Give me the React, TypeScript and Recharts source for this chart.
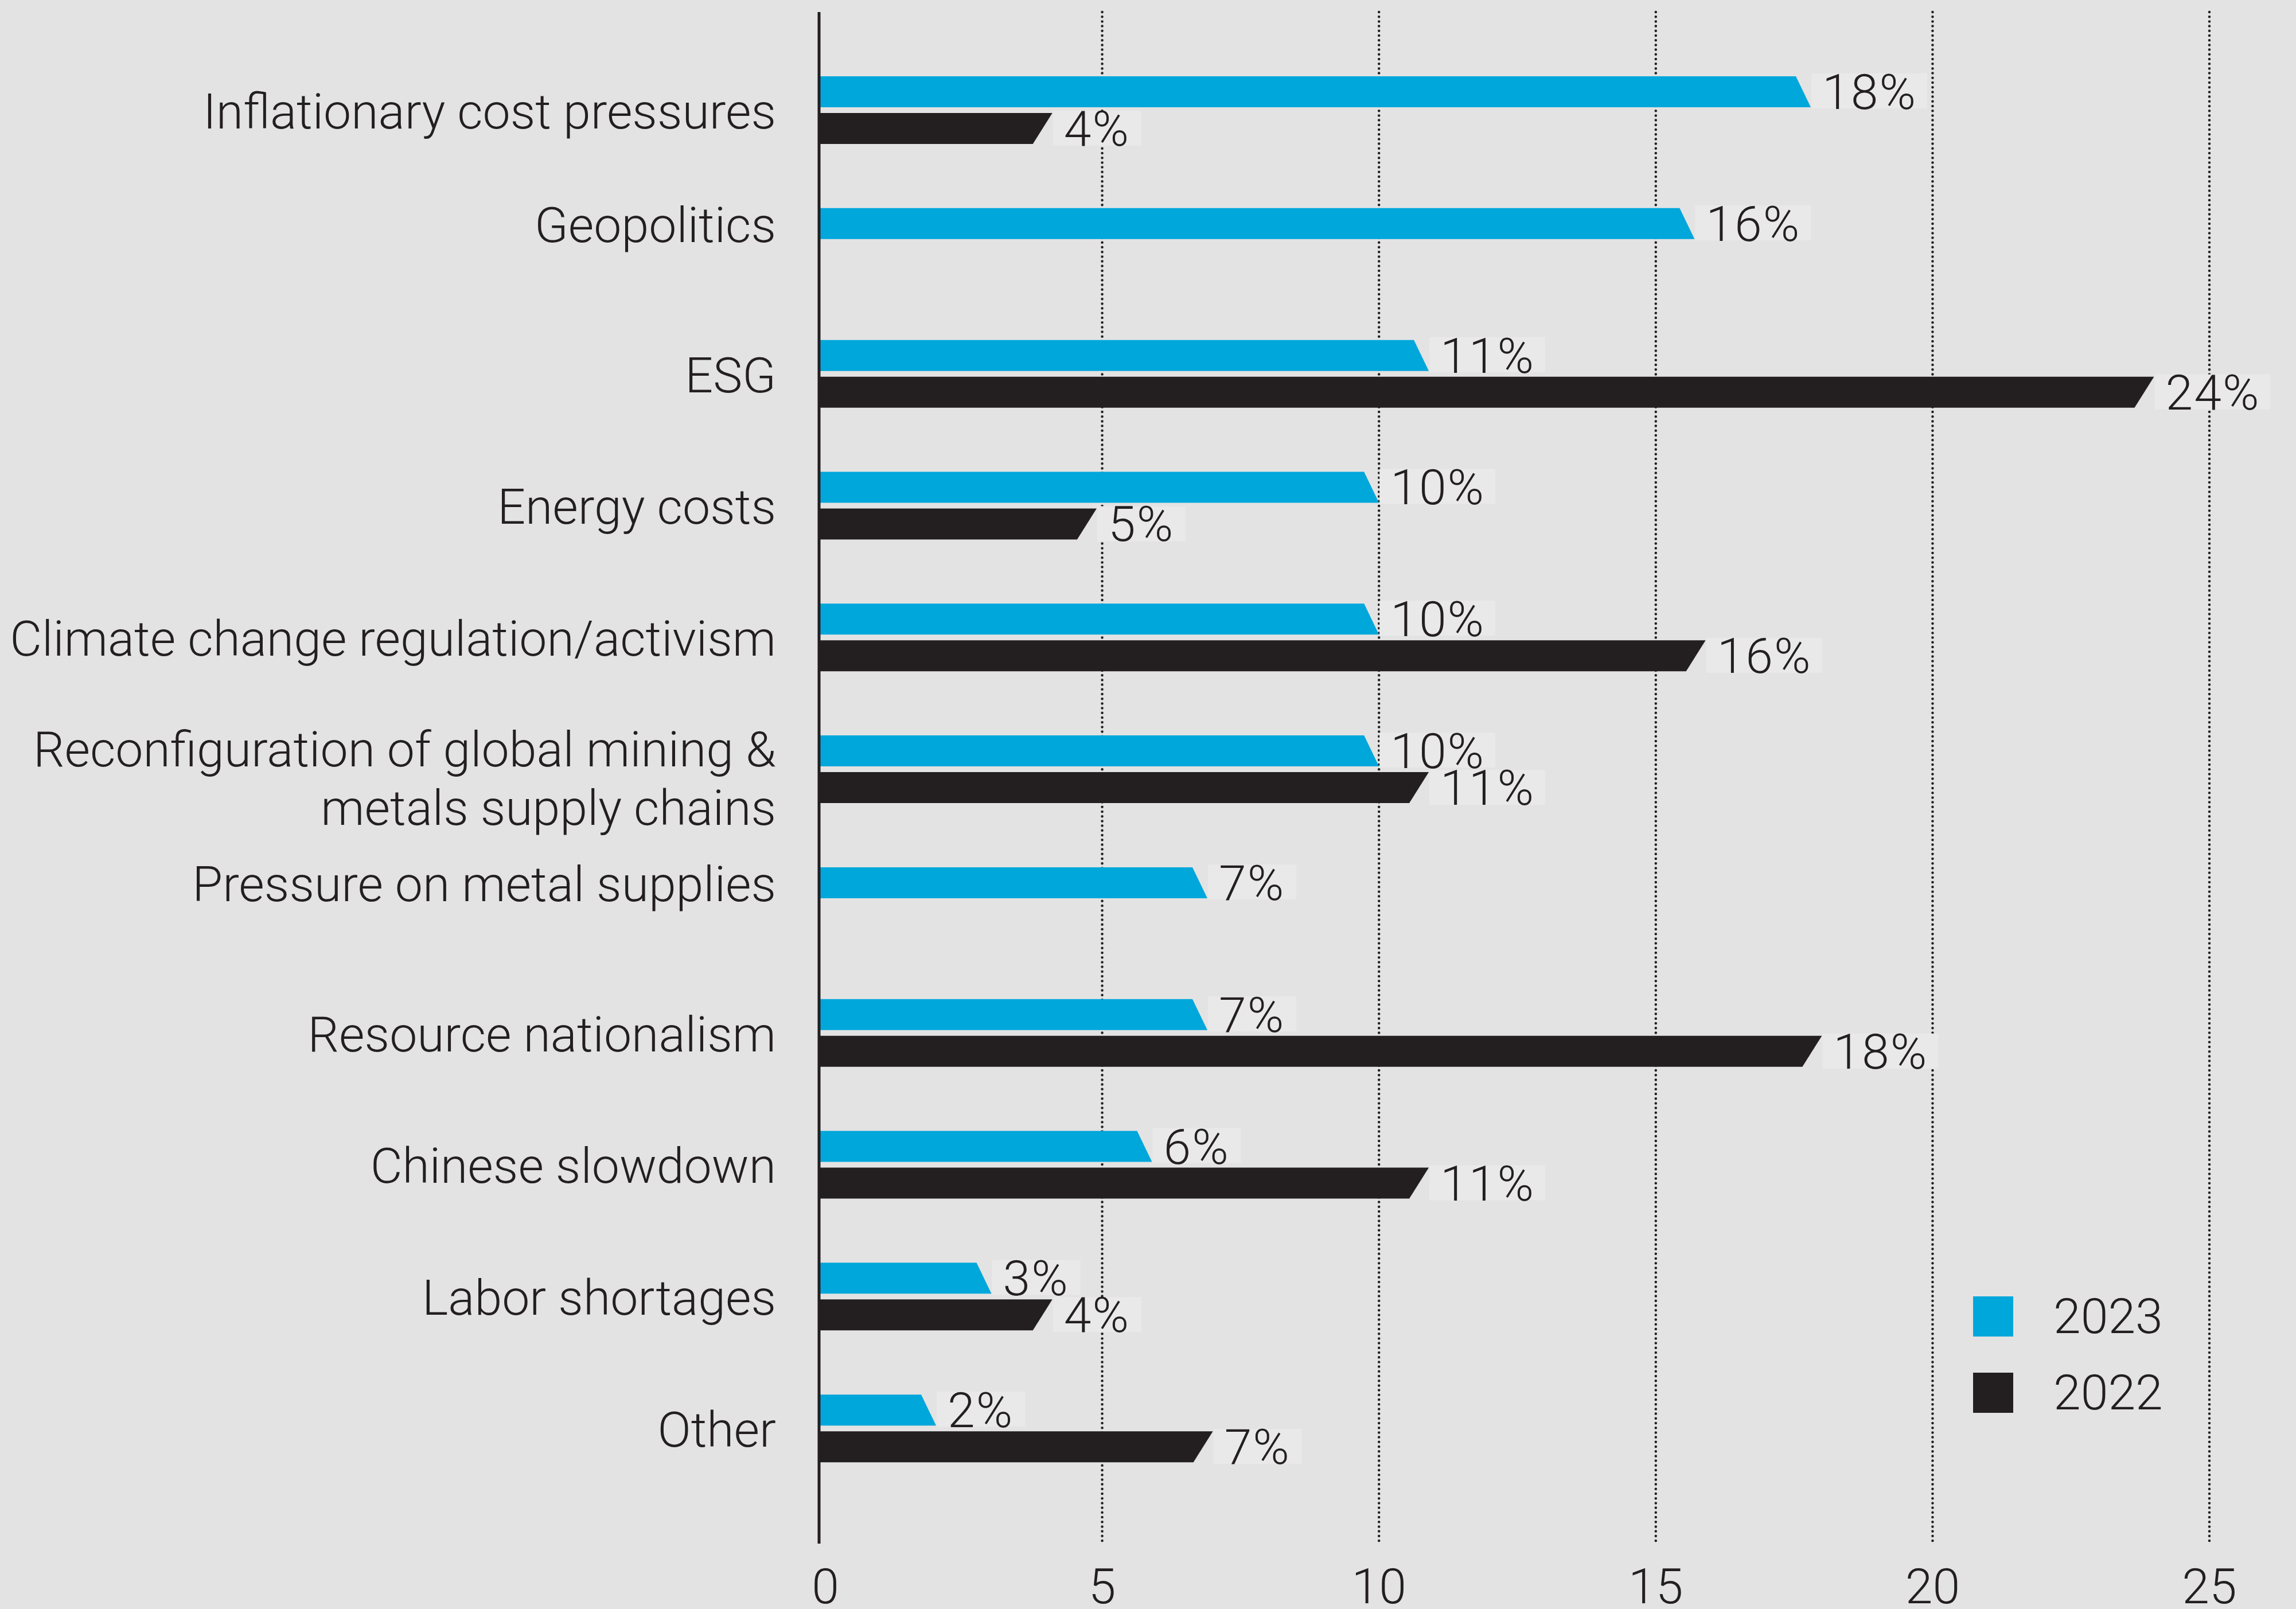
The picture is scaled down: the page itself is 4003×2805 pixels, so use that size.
import React from 'react';
import { BarChart, Bar, XAxis, YAxis, CartesianGrid, LabelList, Legend } from 'recharts';

const categories = [
  'Inflationary cost pressures',
  'Geopolitics',
  'ESG',
  'Energy costs',
  'Climate change regulation/activism',
  'Reconfiguration of global mining &\nmetals supply chains',
  'Pressure on metal supplies',
  'Resource nationalism',
  'Chinese slowdown',
  'Labor shortages',
  'Other',
];
const values2023: (number | null)[] = [17.8, 15.7, 10.9, 10, 10, 10, 6.9, 6.9, 5.9, 3, 2];
const values2022: (number | null)[] = [4.1, null, 24, 4.9, 15.9, 10.9, null, 18, 10.9, 4.1, 7];
const xTicks = [0, 5, 10, 15, 20, 25];
const gridTicks = [5, 10, 15, 20, 25];
const seriesNames = ['2023', '2022'];

const W = 4003;
const H = 2805;
const BLUE = '#00a7db';
const DARK = '#231f20';
const BG = '#e3e3e3';
const BOX = '#e9e9ea';
const FONT = 'Roboto, "Liberation Sans", sans-serif';
const FS = 86;
const ZERO_PAD = 11;

const data = categories.map((c, i) => ({ category: c, y2023: values2023[i], y2022: values2022[i] }));

function makeShape(slant: number, topShort: boolean) {
  return (props: any) => {
    const { x, y, width, height, fill } = props;
    if (!(width > 0) || !(height > 0)) return null;
    const x0 = x - ZERO_PAD;
    const xe = x + width;
    const pts = topShort
      ? [[x0, y], [xe - slant, y], [xe, y + height], [x0, y + height]]
      : [[x0, y], [xe, y], [xe - slant, y + height], [x0, y + height]];
    return <polygon points={pts.map((p) => p.join(',')).join(' ')} fill={fill} />;
  };
}

function makeLabel(isTop: boolean) {
  return (props: any) => {
    const vb = props.viewBox && props.viewBox.width != null ? props.viewBox : props;
    const { x, y, width, height } = vb;
    const v = props.value;
    if (v == null || !(width > 0)) return null;
    const text = `${Math.round(Number(v))}%`;
    const end = x + width;
    const digits = text.length - 1;
    const boxW = 106 + 48 * digits;
    const boxTop = isTop ? y - 5 : y - 4;
    const boxBottom = y + height + (isTop ? 2 : 3);
    return (
      <g>
        <rect x={end + 1} y={boxTop} width={boxW} height={boxBottom - boxTop} fill={BOX} />
        <text
          x={end + 20}
          y={y + height + 3}
          fill={DARK}
          fontSize={FS}
          fontFamily={FONT}
          fontWeight={300}
          letterSpacing={2}
        >
          {text}
        </text>
      </g>
    );
  };
}

const YTick = (props: any) => {
  const { x, y, payload } = props;
  const label: string = String(payload.value);
  const idx = categories.indexOf(label);
  const hasNull = idx >= 0 && values2022[idx] == null;
  const lines = label.split('\n');
  const common = {
    textAnchor: 'end' as const,
    fill: DARK,
    fontSize: FS,
    fontFamily: FONT,
    fontWeight: 300,
  };
  if (lines.length === 1) {
    return (
      <text x={x - 75} y={y + 32 + (hasNull ? -32 : 0)} {...common}>
        {label}
      </text>
    );
  }
  return (
    <text x={x - 75} y={y - 5} {...common}>
      <tspan x={x - 75} y={y - 5}>{lines[0]}</tspan>
      <tspan x={x - 75} y={y + 97}>{lines[1]}</tspan>
    </text>
  );
};

const XTick = (props: any) => (
  <text
    x={props.x}
    y={props.y + 104}
    textAnchor="middle"
    fill={DARK}
    fontSize={FS}
    fontFamily={FONT}
    fontWeight={300}
  >
    {props.payload.value}
  </text>
);

const GridLine = (p: any) => (
  <line
    x1={p.x1}
    y1={p.y1}
    x2={p.x2}
    y2={p.y2}
    stroke={DARK}
    strokeWidth={4.5}
    strokeDasharray="0 8.2"
    strokeLinecap="round"
  />
);

const LegendContent = (props: any) => {
  const payload = [...(props.payload || [])].sort(
    (a: any, b: any) => seriesNames.indexOf(String(a.value)) - seriesNames.indexOf(String(b.value))
  );
  return (
    <div style={{ fontFamily: FONT, fontWeight: 300 }}>
      {payload.map((e: any) => (
        <div
          key={String(e.value)}
          style={{ display: 'flex', alignItems: 'center', height: 70, marginBottom: 63 }}
        >
          <div style={{ width: 70, height: 70, background: e.color }} />
          <span style={{ marginLeft: 70, fontSize: FS, lineHeight: '70px', color: DARK }}>{e.value}</span>
        </div>
      ))}
    </div>
  );
};

export default function App() {
  return (
    <div style={{ position: 'absolute', left: 0, top: 0, width: W, height: H, background: BG, overflow: 'hidden' }}>
      <BarChart
        width={W}
        height={H}
        data={data}
        layout="vertical"
        margin={{ top: 21, right: 151, bottom: 0, left: 0 }}
        barSize={54}
        barGap={10}
      >
        <CartesianGrid horizontal={false} vertical={GridLine} verticalValues={gridTicks} />
        <XAxis
          type="number"
          domain={[0, 25]}
          ticks={xTicks}
          interval={0}
          padding={{ left: ZERO_PAD, right: 0 }}
          height={114}
          axisLine={false}
          tickLine={false}
          tickSize={0}
          tickMargin={0}
          tick={XTick}
        />
        <YAxis
          type="category"
          dataKey="category"
          width={1428}
          padding={{ top: 56, bottom: 86 }}
          interval={0}
          axisLine={{ stroke: DARK, strokeWidth: 5 }}
          tickLine={false}
          tickSize={0}
          tickMargin={0}
          tick={YTick}
        />
        <Legend
          layout="vertical"
          verticalAlign="middle"
          align="center"
          content={LegendContent}
          wrapperStyle={{ left: 3440, top: 2260, width: 'auto' }}
        />
        <Bar dataKey="y2023" name={seriesNames[0]} fill={BLUE} shape={makeShape(26, true)} isAnimationActive={false}>
          <LabelList dataKey="y2023" content={makeLabel(true)} />
        </Bar>
        <Bar dataKey="y2022" name={seriesNames[1]} fill={DARK} shape={makeShape(34, false)} isAnimationActive={false}>
          <LabelList dataKey="y2022" content={makeLabel(false)} />
        </Bar>
      </BarChart>
    </div>
  );
}
